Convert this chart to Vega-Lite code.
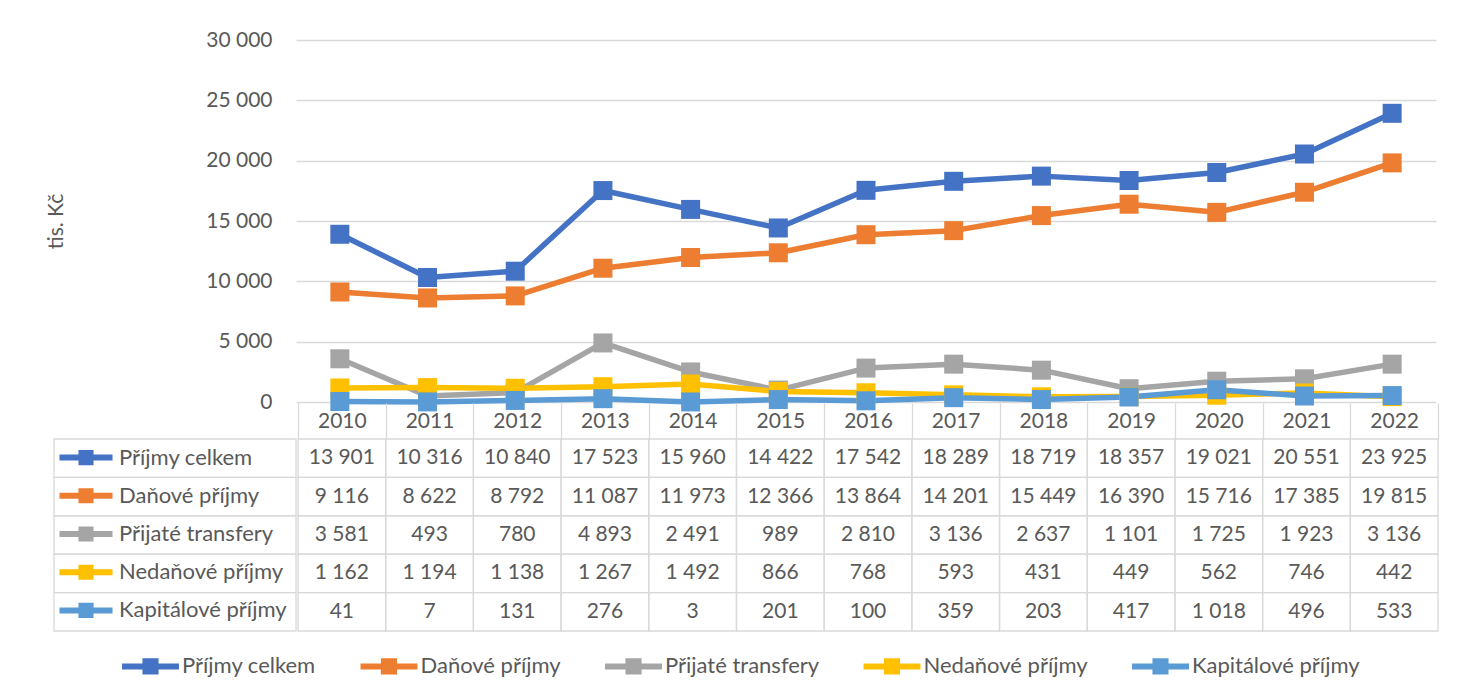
{
  "$schema": "https://vega.github.io/schema/vega-lite/v6.json",
  "background": "white",
  "padding": {"left": 45, "top": 29, "right": 32, "bottom": 18},
  "datasets": {
    "rows": [
      {"series": "Příjmy celkem", "year": "2010", "value": 13901},
      {"series": "Příjmy celkem", "year": "2011", "value": 10316},
      {"series": "Příjmy celkem", "year": "2012", "value": 10840},
      {"series": "Příjmy celkem", "year": "2013", "value": 17523},
      {"series": "Příjmy celkem", "year": "2014", "value": 15960},
      {"series": "Příjmy celkem", "year": "2015", "value": 14422},
      {"series": "Příjmy celkem", "year": "2016", "value": 17542},
      {"series": "Příjmy celkem", "year": "2017", "value": 18289},
      {"series": "Příjmy celkem", "year": "2018", "value": 18719},
      {"series": "Příjmy celkem", "year": "2019", "value": 18357},
      {"series": "Příjmy celkem", "year": "2020", "value": 19021},
      {"series": "Příjmy celkem", "year": "2021", "value": 20551},
      {"series": "Příjmy celkem", "year": "2022", "value": 23925},
      {"series": "Daňové příjmy", "year": "2010", "value": 9116},
      {"series": "Daňové příjmy", "year": "2011", "value": 8622},
      {"series": "Daňové příjmy", "year": "2012", "value": 8792},
      {"series": "Daňové příjmy", "year": "2013", "value": 11087},
      {"series": "Daňové příjmy", "year": "2014", "value": 11973},
      {"series": "Daňové příjmy", "year": "2015", "value": 12366},
      {"series": "Daňové příjmy", "year": "2016", "value": 13864},
      {"series": "Daňové příjmy", "year": "2017", "value": 14201},
      {"series": "Daňové příjmy", "year": "2018", "value": 15449},
      {"series": "Daňové příjmy", "year": "2019", "value": 16390},
      {"series": "Daňové příjmy", "year": "2020", "value": 15716},
      {"series": "Daňové příjmy", "year": "2021", "value": 17385},
      {"series": "Daňové příjmy", "year": "2022", "value": 19815},
      {"series": "Přijaté transfery", "year": "2010", "value": 3581},
      {"series": "Přijaté transfery", "year": "2011", "value": 493},
      {"series": "Přijaté transfery", "year": "2012", "value": 780},
      {"series": "Přijaté transfery", "year": "2013", "value": 4893},
      {"series": "Přijaté transfery", "year": "2014", "value": 2491},
      {"series": "Přijaté transfery", "year": "2015", "value": 989},
      {"series": "Přijaté transfery", "year": "2016", "value": 2810},
      {"series": "Přijaté transfery", "year": "2017", "value": 3136},
      {"series": "Přijaté transfery", "year": "2018", "value": 2637},
      {"series": "Přijaté transfery", "year": "2019", "value": 1101},
      {"series": "Přijaté transfery", "year": "2020", "value": 1725},
      {"series": "Přijaté transfery", "year": "2021", "value": 1923},
      {"series": "Přijaté transfery", "year": "2022", "value": 3136},
      {"series": "Nedaňové příjmy", "year": "2010", "value": 1162},
      {"series": "Nedaňové příjmy", "year": "2011", "value": 1194},
      {"series": "Nedaňové příjmy", "year": "2012", "value": 1138},
      {"series": "Nedaňové příjmy", "year": "2013", "value": 1267},
      {"series": "Nedaňové příjmy", "year": "2014", "value": 1492},
      {"series": "Nedaňové příjmy", "year": "2015", "value": 866},
      {"series": "Nedaňové příjmy", "year": "2016", "value": 768},
      {"series": "Nedaňové příjmy", "year": "2017", "value": 593},
      {"series": "Nedaňové příjmy", "year": "2018", "value": 431},
      {"series": "Nedaňové příjmy", "year": "2019", "value": 449},
      {"series": "Nedaňové příjmy", "year": "2020", "value": 562},
      {"series": "Nedaňové příjmy", "year": "2021", "value": 746},
      {"series": "Nedaňové příjmy", "year": "2022", "value": 442},
      {"series": "Kapitálové příjmy", "year": "2010", "value": 41},
      {"series": "Kapitálové příjmy", "year": "2011", "value": 7},
      {"series": "Kapitálové příjmy", "year": "2012", "value": 131},
      {"series": "Kapitálové příjmy", "year": "2013", "value": 276},
      {"series": "Kapitálové příjmy", "year": "2014", "value": 3},
      {"series": "Kapitálové příjmy", "year": "2015", "value": 201},
      {"series": "Kapitálové příjmy", "year": "2016", "value": 100},
      {"series": "Kapitálové příjmy", "year": "2017", "value": 359},
      {"series": "Kapitálové příjmy", "year": "2018", "value": 203},
      {"series": "Kapitálové příjmy", "year": "2019", "value": 417},
      {"series": "Kapitálové příjmy", "year": "2020", "value": 1018},
      {"series": "Kapitálové příjmy", "year": "2021", "value": 496},
      {"series": "Kapitálové příjmy", "year": "2022", "value": 533}
    ]
  },
  "config": {
    "view": {"stroke": null},
    "font": "Lato",
    "locale": {"number": {"decimal": ",", "thousands": " ", "grouping": [3], "currency": ["", " Kč"]}},
    "axis": {
      "labelFont": "Lato", "titleFont": "Lato",
      "labelColor": "#595959", "titleColor": "#595959",
      "labelFontSize": 21, "titleFontSize": 21, "titleFontWeight": "normal",
      "gridColor": "#D9D9D9", "tickColor": "#D9D9D9"
    },
    "legend": {
      "labelFont": "Lato", "labelFontSize": 22, "labelColor": "#595959",
      "labelLimit": 400, "padding": 0, "symbolStrokeWidth": 0, "title": null
    },
    "text": {"font": "Lato", "fontSize": 21, "fill": "#595959"}
  },
  "spacing": -10,
  "resolve": {"scale": {"fill": "shared", "stroke": "shared"}, "legend": {"fill": "shared", "stroke": "shared"}},
  "vconcat": [
    {
      "spacing": 0,
      "resolve": {"scale": {"fill": "shared", "stroke": "shared"}, "legend": {"fill": "shared", "stroke": "shared"}},
      "hconcat": [
        {
          "width": 242, "height": 362,
          "data": {"name": "rows"},
          "mark": {"type": "point", "opacity": 0},
          "encoding": {
            "y": {
              "field": "value", "type": "quantitative",
              "scale": {"domain": [0, 30000], "nice": false},
              "axis": {
                "orient": "left",
                "values": [0, 5000, 10000, 15000, 20000, 25000, 30000],
                "format": ",d", "grid": false, "ticks": false, "domain": false,
                "labelPadding": -218, "labelAlign": "right", "labelBaseline": "middle",
                "title": "tis. Kč", "titleX": 2, "titleY": 181, "titleAngle": -90,
                "titleAlign": "center", "titleBaseline": "middle"
              }
            }
          }
        },
        {
          "width": 1140, "height": 362,
          "data": {"name": "rows"},
          "encoding": {
            "x": {"field": "year", "type": "ordinal", "scale": {"type": "point", "padding": 0.5}, "axis": null},
            "y": {
              "field": "value", "type": "quantitative",
              "scale": {"domain": [0, 30000], "nice": false},
              "axis": {
                "values": [0, 5000, 10000, 15000, 20000, 25000, 30000],
                "grid": true, "gridWidth": 1.3, "labels": false, "ticks": false, "domain": false, "title": null
              }
            }
          },
          "layer": [
            {
              "mark": {"type": "line", "strokeWidth": 5.5, "strokeJoin": "round"},
              "encoding": {
                "stroke": {
                  "field": "series", "type": "nominal", "sort": null,
                  "scale": {"range": ["#4472C4", "#ED7D31", "#A5A5A5", "#FFC000", "#5B9BD5"]},
                  "legend": {
                    "orient": "none", "direction": "horizontal",
                    "legendX": 83.5, "legendY": 613.4,
                    "symbolType": "M-2.19,-0.23H2.19V0.23H-2.19Z M-0.62,-0.62H0.62V0.62H-0.62Z",
                    "symbolSize": 676, "labelOffset": 18.5, "columnPadding": 43.5,
                    "encode": {"symbols": {"update": {"fill": {"scale": "stroke", "field": "value"}, "strokeWidth": {"value": 0}, "opacity": {"value": 1}}}}
                  }
                }
              }
            },
            {
              "mark": {"type": "point", "shape": "square", "filled": true, "size": 361, "opacity": 1},
              "encoding": {
                "fill": {
                  "field": "series", "type": "nominal",
                  "scale": {
                    "domain": ["Příjmy celkem", "Daňové příjmy", "Přijaté transfery", "Nedaňové příjmy", "Kapitálové příjmy"],
                    "range": ["#4472C4", "#ED7D31", "#A5A5A5", "#FFC000", "#5B9BD5"]
                  },
                  "legend": {
                    "orient": "none", "direction": "vertical",
                    "legendX": 19, "legendY": 404.6,
                    "symbolType": "M-2.04,-0.23H2.04V0.23H-2.04Z M-0.58,-0.58H0.58V0.58H-0.58Z",
                    "symbolSize": 676, "labelOffset": 20, "rowPadding": 14.2,
                    "encode": {"symbols": {"update": {"fill": {"scale": "fill", "field": "value"}, "strokeWidth": {"value": 0}, "opacity": {"value": 1}}}}
                  }
                }
              }
            }
          ]
        }
      ]
    },
    {
      "spacing": 0,
      "hconcat": [
        {
          "width": 242, "height": 192,
          "data": {"name": "rows"},
          "transform": [{"aggregate": [{"op": "count", "as": "n"}], "groupby": ["series"]}],
          "mark": {"type": "rect", "fill": "transparent", "stroke": "#D9D9D9", "strokeWidth": 1.3},
          "encoding": {
            "y": {
              "field": "series", "type": "nominal",
              "scale": {"domain": ["Příjmy celkem", "Daňové příjmy", "Přijaté transfery", "Nedaňové příjmy", "Kapitálové příjmy"], "paddingInner": 0, "paddingOuter": 0},
              "axis": null
            }
          }
        },
        {
          "width": 1140, "height": 192,
          "data": {"name": "rows"},
          "encoding": {
            "x": {
              "field": "year", "type": "ordinal",
              "scale": {"paddingInner": 0, "paddingOuter": 0},
              "axis": {
                "orient": "top", "title": null, "labelAngle": 0, "domain": false, "grid": false,
                "ticks": true, "tickSize": 36, "tickWidth": 1.3, "tickBand": "extent",
                "labelPadding": -18, "labelBaseline": "middle"
              }
            },
            "y": {
              "field": "series", "type": "nominal",
              "scale": {"domain": ["Příjmy celkem", "Daňové příjmy", "Přijaté transfery", "Nedaňové příjmy", "Kapitálové příjmy"], "paddingInner": 0, "paddingOuter": 0},
              "axis": null
            }
          },
          "layer": [
            {"mark": {"type": "rect", "fill": "transparent", "stroke": "#D9D9D9", "strokeWidth": 1.3}},
            {"mark": {"type": "text", "font": "Lato", "fontSize": 21, "fill": "#595959"},
             "encoding": {"text": {"field": "value", "type": "quantitative", "format": ",d"}}}
          ]
        }
      ]
    }
  ]
}
